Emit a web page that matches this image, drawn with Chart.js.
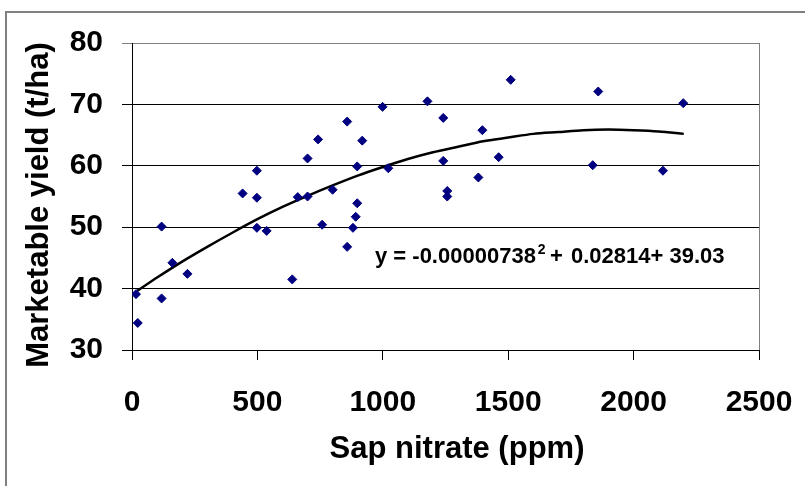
<!DOCTYPE html>
<html>
<head>
<meta charset="utf-8">
<script src="https://cdn.jsdelivr.net/npm/chart.js@4.4.1/dist/chart.umd.min.js"></script>
<style>
  body { margin: 0; background: #fff; }
  #myChart { display: block; }
</style>
</head>
<body>
<canvas id="myChart" width="805" height="486"></canvas>
<script>
// measured points (sap nitrate ppm, yield t/ha)
let sapNitrate = [16, 23, 118, 118, 161, 221, 441, 498, 498, 498,
                  537, 639, 661, 700, 700, 742, 758, 800, 858, 858,
                  881, 892, 898, 898, 918, 999, 1022, 1178, 1241, 1241,
                  1257, 1257, 1381, 1397, 1462, 1510, 1837, 1859, 2117, 2198];
let yieldValues = [39.1, 34.4, 50.1, 38.4, 44.2, 42.4, 55.5, 59.2, 54.8, 49.9,
                   49.4, 41.5, 54.9, 55.0, 61.2, 64.3, 50.4, 56.1, 67.2, 46.8,
                   49.9, 51.7, 53.9, 59.9, 64.1, 69.6, 59.6, 70.5, 67.8, 60.8,
                   55.9, 55.0, 58.1, 65.8, 61.4, 74.0, 60.1, 72.1, 59.2, 70.2];

// trend curve
let trendX = [20, 100, 200, 300, 400, 500, 600, 700, 800, 900, 1000, 1100,
              1200, 1300, 1400, 1500, 1600, 1700, 1800, 1900, 2000, 2100, 2200];
let trendY = [39.6, 41.8, 44.4, 46.8, 49.1, 51.3, 53.3, 55.1, 56.8, 58.4, 59.8, 61.1,
              62.2, 63.1, 64.0, 64.6, 65.2, 65.5, 65.8, 65.9, 65.8, 65.6, 65.2];

let xTicks = [0, 500, 1000, 1500, 2000, 2500];
let yTicks = [30, 40, 50, 60, 70, 80];

let equationParts = ['y = -0.00000738', '2', '+', '0.02814+ 39.03'];
let xTitle = 'Sap nitrate (ppm)';
let yTitle = 'Marketable yield (t/ha)';

let scatterData = sapNitrate.map(function(x, i) { return {x: x, y: yieldValues[i]}; });
let trendData = trendX.map(function(x, i) { return {x: x, y: trendY[i]}; });

let extras = {
    id: 'extras',
    beforeDraw: function(chart) {
        let ctx = chart.ctx;
        ctx.save();
        ctx.fillStyle = '#fff';
        ctx.fillRect(0, 0, chart.width, chart.height);
        // outer frame (top + left only visible)
        ctx.strokeStyle = '#808080';
        ctx.lineWidth = 2;
        ctx.beginPath();
        ctx.moveTo(6, 486);
        ctx.lineTo(6, 12);
        ctx.lineTo(805, 12);
        ctx.stroke();
        ctx.restore();
    },
    afterDraw: function(chart) {
        let ctx = chart.ctx;
        let a = chart.chartArea;
        ctx.save();
        // right border of plot area
        ctx.strokeStyle = '#808080';
        ctx.lineWidth = 1;
        ctx.beginPath();
        ctx.moveTo(Math.round(a.right) + 0.5, a.top);
        ctx.lineTo(Math.round(a.right) + 0.5, a.bottom);
        ctx.stroke();

        ctx.fillStyle = '#000';
        // axis titles
        ctx.font = 'bold 31px "Liberation Sans", Arial, sans-serif';
        ctx.textAlign = 'center';
        ctx.textBaseline = 'middle';
        ctx.fillText(xTitle, 457, 449);
        ctx.translate(39, 205);
        ctx.rotate(-Math.PI / 2);
        ctx.fillText(yTitle, 0, 0);
        ctx.setTransform(1, 0, 0, 1, 0, 0);

        // trend equation
        ctx.textAlign = 'left';
        ctx.textBaseline = 'alphabetic';
        ctx.font = 'bold 22px "Liberation Sans", Arial, sans-serif';
        ctx.fillText(equationParts[0], 375, 263);
        let w = ctx.measureText(equationParts[0]).width;
        ctx.font = 'bold 14px "Liberation Sans", Arial, sans-serif';
        ctx.fillText(equationParts[1], 375 + w + 2, 254);
        ctx.font = 'bold 22px "Liberation Sans", Arial, sans-serif';
        ctx.fillText(equationParts[2], 550, 263);
        ctx.fillText(equationParts[3], 571, 263);
        ctx.restore();
    }
};

let ctx = document.getElementById('myChart').getContext('2d');

let myChart = new Chart(ctx, {
    type: 'scatter',
    data: {
        datasets: [{
            label: 'Yield',
            data: scatterData,
            pointStyle: 'rectRot',
            pointRadius: 4.5,
            backgroundColor: '#000080',
            borderColor: '#000080',
            borderWidth: 1
        },
        {
            label: 'Trend',
            data: trendData,
            showLine: true,
            pointRadius: 0,
            borderColor: '#000',
            borderWidth: 2.5,
            tension: 0.3
        }]
    },
    options: {
        responsive: false,
        animation: false,
        layout: {
            padding: { left: 0, top: 43, right: 46, bottom: 0 }
        },
        plugins: {
            legend: { display: false },
            tooltip: { enabled: false }
        },
        scales: {
            x: {
                type: 'linear',
                min: 0,
                max: 2500,
                afterBuildTicks: function(scale) {
                    scale.ticks = xTicks.map(function(v) { return {value: v}; });
                },
                afterFit: function(scale) {
                    scale.height = 136;
                    scale.paddingLeft = 0;
                    scale.paddingRight = 0;
                },
                ticks: {
                    color: '#000',
                    padding: 25,
                    maxRotation: 0,
                    callback: function(v) { return String(v); },
                    font: { family: '"Liberation Sans", Arial, sans-serif', size: 30, weight: 'bold' }
                },
                grid: {
                    drawOnChartArea: false,
                    drawTicks: true,
                    tickLength: 10,
                    color: '#000'
                },
                border: { color: '#000', width: 1 }
            },
            y: {
                min: 30,
                max: 80,
                afterBuildTicks: function(scale) {
                    scale.ticks = yTicks.map(function(v) { return {value: v}; });
                },
                afterFit: function(scale) {
                    scale.width = 132;
                    scale.paddingTop = 0;
                    scale.paddingBottom = 0;
                },
                ticks: {
                    color: '#000',
                    padding: 19,
                    callback: function(v) { return String(v); },
                    font: { family: '"Liberation Sans", Arial, sans-serif', size: 30, weight: 'bold' }
                },
                grid: {
                    tickLength: 10,
                    color: function(c) { return c.tick && c.tick.value === 80 ? '#808080' : '#000'; }
                },
                border: { color: '#000', width: 1 }
            }
        }
    },
    plugins: [extras]
});
</script>
</body>
</html>
